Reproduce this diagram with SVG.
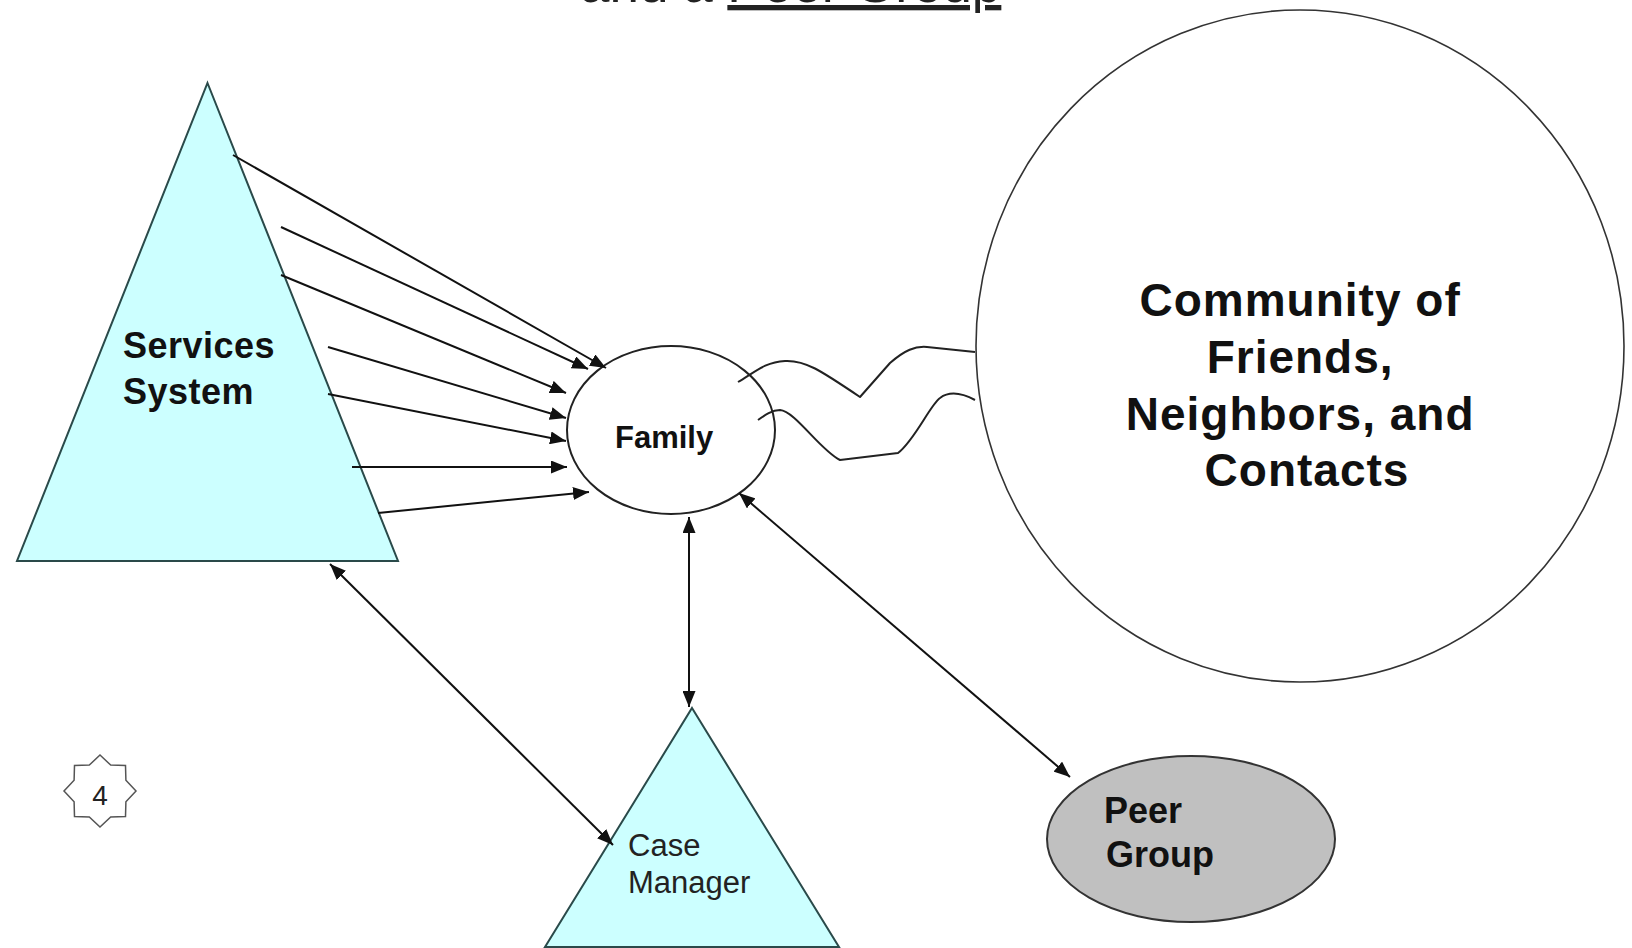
<svg xmlns="http://www.w3.org/2000/svg" width="1632" height="948" viewBox="0 0 1632 948">
<style>
.tri{fill:#ccffff;stroke:#2a4a4a;stroke-width:2;stroke-linejoin:miter}
.bold{font-family:"Liberation Sans",Arial,sans-serif;font-weight:bold;fill:#111}
.reg{font-family:"Liberation Sans",Arial,sans-serif;font-weight:normal;fill:#222}
.arr{stroke:#111;stroke-width:2;fill:none;marker-end:url(#ah)}
.dbl{stroke:#111;stroke-width:2;fill:none;marker-end:url(#ah);marker-start:url(#ah)}
.wave{stroke:#222;stroke-width:2;fill:none;stroke-linejoin:round}
</style>
<defs>
<marker id="ah" markerUnits="userSpaceOnUse" markerWidth="17" markerHeight="13" refX="16" refY="6.5" orient="auto-start-reverse">
<path d="M0,0 L16,6.5 L0,13 z" fill="#111"/>
</marker>
</defs>
<rect width="1632" height="948" fill="#ffffff"/>
<g id="title">
<text class="reg" x="580" y="2" font-size="53" fill="#111">and a <tspan text-decoration="underline">Peer Group</tspan></text>
</g>
<g id="community">
<ellipse cx="1300" cy="346" rx="324" ry="336" fill="#ffffff" stroke="#333" stroke-width="1.6"/>
<text class="bold" font-size="46" letter-spacing="1" text-anchor="middle">
<tspan x="1307" y="316">Community of</tspan>
<tspan x="1307" y="373">Friends,</tspan>
<tspan x="1307" y="430">Neighbors, and</tspan>
<tspan x="1307" y="486">Contacts</tspan>
</text>
</g>
<g id="services">
<polygon class="tri" points="207.5,83 398,561 17,561"/>
<text class="bold" font-size="36" letter-spacing="0.5">
<tspan x="123" y="358">Services</tspan>
<tspan x="123" y="404">System</tspan>
</text>
</g>
<g id="family">
<ellipse cx="671" cy="430" rx="104" ry="84" fill="#ffffff" stroke="#222" stroke-width="2"/>
<text class="bold" x="615" y="448" font-size="31">Family</text>
</g>
<g id="case-manager">
<polygon class="tri" points="692,708 839,947 545,947"/>
<text class="reg" font-size="31">
<tspan x="628" y="856">Case</tspan>
<tspan x="628" y="893">Manager</tspan>
</text>
</g>
<g id="peer-group">
<ellipse cx="1191" cy="839" rx="144" ry="83" fill="#c0c0c0" stroke="#333" stroke-width="2"/>
<text class="bold" font-size="36">
<tspan x="1104" y="823">Peer</tspan>
<tspan x="1106" y="867">Group</tspan>
</text>
</g>
<g id="badge">
<polygon points="100,755 110.7,765.1 125.5,765.5 125.9,780.3 136,791 125.9,801.7 125.5,816.5 110.7,816.9 100,827 89.3,816.9 74.5,816.5 74.1,801.7 64,791 74.1,780.3 74.5,765.5 89.3,765.1" fill="#ffffff" stroke="#555" stroke-width="1.5"/>
<text class="reg" x="100" y="805" font-size="28" text-anchor="middle" fill="#333">4</text>
</g>
<g id="connectors">
<line class="arr" x1="233" y1="155" x2="606" y2="368"/>
<line class="arr" x1="281" y1="227" x2="588" y2="369"/>
<line class="arr" x1="281" y1="275" x2="566" y2="393"/>
<line class="arr" x1="328" y1="347" x2="566" y2="418"/>
<line class="arr" x1="328" y1="394" x2="566" y2="441"/>
<line class="arr" x1="352" y1="467" x2="567" y2="467"/>
<line class="arr" x1="378" y1="513" x2="589" y2="492"/>
<line class="dbl" x1="689" y1="517" x2="689" y2="707"/>
<line class="dbl" x1="739" y1="493" x2="1070" y2="777"/>
<line class="dbl" x1="330" y1="564" x2="613" y2="845"/>
<path class="wave" d="M738,382 C755,372 765,362 785,361 C805,360 820,370 860,397 L890,363 C905,350 915,346 927,347 L975,352"/>
<path class="wave" d="M758,420 C765,415 772,410 780,410 C795,411 820,450 840,460 L898,453 C915,440 930,405 940,398 C948,392 960,392 975,400"/>
</g>
</svg>
